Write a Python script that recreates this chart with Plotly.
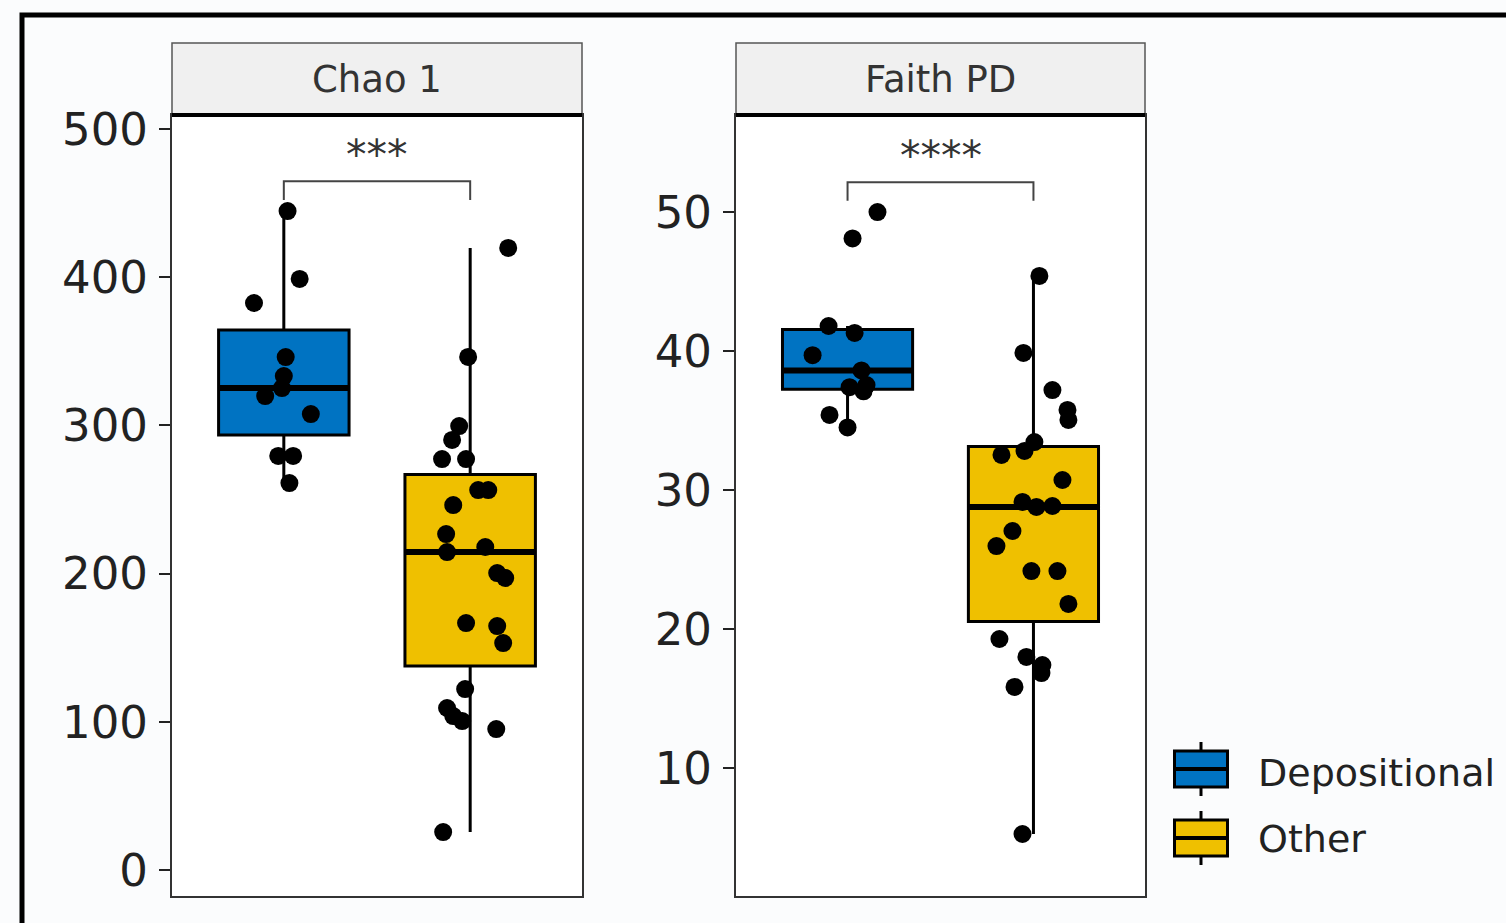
import numpy as np
import plotly.graph_objects as go

# ---------------- data ----------------
groups = ["Depositional", "Other"]
colors = {"Depositional": "#0073C2", "Other": "#EFC000"}
panels = ["Chao 1", "Faith PD"]
sig_labels = ["***", "****"]

chao_dep = [444.5, 398.7, 382.5, 346.0, 333.2, 325.1, 319.7, 307.6, 279.3, 279.3, 261.0]
chao_dep_jit = [0.02, 0.085, -0.16, 0.01, 0.0, -0.01, -0.10, 0.145, -0.03, 0.05, 0.03]

chao_oth = [419.6, 346.1, 299.5, 290.1, 277.2, 277.2, 256.3, 256.3, 246.2, 226.6, 214.5,
            217.9, 200.3, 197.0, 166.6, 164.6, 153.1, 122.1, 109.3, 103.9, 100.5, 95.1, 25.6]
chao_oth_jit = [0.204, -0.011, -0.059, -0.097, -0.151, -0.022, 0.043, 0.097, -0.091, -0.129, -0.124,
                0.081, 0.145, 0.188, -0.022, 0.145, 0.177, -0.027, -0.124, -0.091, -0.043, 0.140, -0.145]

faith_dep = [50.0, 48.1, 41.8, 41.3, 39.7, 38.6, 37.55, 37.4, 37.1, 35.4, 34.5]
faith_dep_jit = [0.161, 0.027, -0.102, 0.038, -0.188, 0.075, 0.102, 0.011, 0.086, -0.097, 0.0]

faith_oth = [45.4, 39.86, 37.19, 35.76, 35.04, 33.45, 32.81, 32.52, 30.72, 29.14, 28.78, 28.85,
             27.05, 25.97, 24.17, 24.17, 21.80, 19.28, 17.99, 17.41, 16.83, 15.83, 5.25]
faith_oth_jit = [0.032, -0.054, 0.102, 0.183, 0.188, 0.005, -0.048, -0.172, 0.156, -0.059, 0.016, 0.102,
                 -0.113, -0.199, -0.011, 0.129, 0.188, -0.183, -0.038, 0.048, 0.043, -0.102, -0.059]

data = {
    "Chao 1": {"Depositional": (chao_dep, chao_dep_jit), "Other": (chao_oth, chao_oth_jit)},
    "Faith PD": {"Depositional": (faith_dep, faith_dep_jit), "Other": (faith_oth, faith_oth_jit)},
}

y_ticks = {"Chao 1": [0, 100, 200, 300, 400, 500], "Faith PD": [10, 20, 30, 40, 50]}
y_ranges = {"Chao 1": [-17.5, 509.3], "Faith PD": [0.79, 56.98]}

# ---------------- layout geometry ----------------
W, H = 1506, 923
def px_x(p): return p / W
def px_y(p): return 1 - p / H

x_domains = [[px_x(172), px_x(582)], [px_x(736), px_x(1145)]]
y_domain = [px_y(896), px_y(115)]
strip_top, strip_bot = px_y(43), px_y(115)

BOX_W = 0.7
FONT = "DejaVu Sans"

fig = go.Figure()

def stats(v):
    v = np.asarray(v, float)
    q1, med, q3 = np.percentile(v, [25, 50, 75])
    iqr = q3 - q1
    up = v[v <= q3 + 1.5 * iqr].max()
    lo = v[v >= q1 - 1.5 * iqr].min()
    return q1, med, q3, lo, up

for pi, panel in enumerate(panels):
    xa = "x" if pi == 0 else "x2"
    ya = "y" if pi == 0 else "y2"
    all_vals = []
    for gi, g in enumerate(groups):
        vals, jit = data[panel][g]
        all_vals += vals
        pos = gi + 1
        q1, med, q3, lo, up = stats(vals)
        fig.add_trace(go.Box(
            x=[pos], q1=[q1], median=[med], q3=[q3], lowerfence=[lo], upperfence=[up],
            width=BOX_W, fillcolor=colors[g], line=dict(color="black", width=3),
            whiskerwidth=0, boxpoints=False, name=g, legendgroup=g,
            showlegend=False, xaxis=xa, yaxis=ya, hoverinfo="skip"))
    for gi, g in enumerate(groups):
        vals, jit = data[panel][g]
        pos = gi + 1
        q1, med, q3, lo, up = stats(vals)
        fig.add_trace(go.Scatter(
            x=[pos - BOX_W / 2, pos + BOX_W / 2], y=[med, med], mode="lines",
            line=dict(color="black", width=6), showlegend=False, xaxis=xa, yaxis=ya,
            hoverinfo="skip"))
    for gi, g in enumerate(groups):
        vals, jit = data[panel][g]
        pos = gi + 1
        fig.add_trace(go.Scatter(
            x=[pos + j for j in jit], y=vals, mode="markers",
            marker=dict(color="black", size=18, line=dict(width=0)),
            showlegend=False, xaxis=xa, yaxis=ya, hoverinfo="skip"))
    # significance bracket
    vmax, vmin = max(all_vals), min(all_vals)
    span = vmax - vmin
    by = vmax + 0.048 * span
    tip = 0.03 * span
    fig.add_trace(go.Scatter(
        x=[1, 1, 2, 2], y=[by - tip, by, by, by - tip], mode="lines",
        line=dict(color="#444444", width=2), showlegend=False, xaxis=xa, yaxis=ya,
        hoverinfo="skip"))
    fig.add_annotation(x=1.5, y=by, xref=xa, yref=ya, text=sig_labels[pi],
                       showarrow=False, yanchor="bottom", yshift=0,
                       font=dict(family=FONT, size=41, color="#333333"))
    # strip
    fig.add_shape(type="rect", xref=f"{xa} domain", yref="paper", x0=0, x1=1,
                  y0=strip_bot, y1=strip_top, fillcolor="#F0F0F0",
                  line=dict(color="#555555", width=1.5), layer="below")
    fig.add_shape(type="line", xref=f"{xa} domain", yref="paper", x0=0, x1=1,
                  y0=strip_bot, y1=strip_bot, line=dict(color="black", width=4))
    fig.add_annotation(x=0.5, y=(strip_top + strip_bot) / 2, xref=f"{xa} domain", yref="paper",
                       text=panel, showarrow=False, yanchor="middle",
                       font=dict(family=FONT, size=37, color="#333333"))

# legend entries (text by plotly legend, key glyph drawn as a boxplot key)
key_cx, key_w, key_h, key_wh = 1201, 53, 36, 9
key_centers = [769, 838]
for g, cy in zip(groups, key_centers):
    fig.add_trace(go.Scatter(x=[None], y=[None], mode="markers", name=g,
                             marker=dict(color="rgba(0,0,0,0)", size=1),
                             showlegend=True, legendgroup=g, hoverinfo="skip"))
    fig.add_shape(type="line", xref="paper", yref="paper",
                  x0=px_x(key_cx), x1=px_x(key_cx),
                  y0=px_y(cy + key_h / 2 + key_wh), y1=px_y(cy - key_h / 2 - key_wh),
                  line=dict(color="black", width=3))
    fig.add_shape(type="rect", xref="paper", yref="paper",
                  x0=px_x(key_cx - key_w / 2), x1=px_x(key_cx + key_w / 2),
                  y0=px_y(cy + key_h / 2), y1=px_y(cy - key_h / 2),
                  fillcolor=colors[g], line=dict(color="black", width=3))
    fig.add_shape(type="line", xref="paper", yref="paper",
                  x0=px_x(key_cx - key_w / 2), x1=px_x(key_cx + key_w / 2),
                  y0=px_y(cy), y1=px_y(cy), line=dict(color="black", width=4))

axis_common = dict(showgrid=False, zeroline=False, showline=True, mirror=True,
                   linecolor="#333333", linewidth=2, automargin=False)
tick_common = dict(ticks="outside", ticklen=11, tickwidth=2, tickcolor="#222222",
                   ticklabelstandoff=2,
                   tickfont=dict(family=FONT, size=45, color="#222222"))
fig.update_layout(
    xaxis=dict(domain=x_domains[0], range=[0.4, 2.6], showticklabels=False, ticks="", **axis_common),
    xaxis2=dict(domain=x_domains[1], range=[0.4, 2.6], showticklabels=False, ticks="", anchor="y2",
                **axis_common),
    yaxis=dict(domain=y_domain, range=y_ranges["Chao 1"], tickvals=y_ticks["Chao 1"],
               anchor="x", **tick_common, **axis_common),
    yaxis2=dict(domain=y_domain, range=y_ranges["Faith PD"], tickvals=y_ticks["Faith PD"],
                anchor="x2", **tick_common, **axis_common),
)

fig.add_shape(type="rect", xref="paper", yref="paper", x0=px_x(22), x1=1.2, y0=-0.2, y1=px_y(15),
              line=dict(color="black", width=5), layer="below")

fig.update_layout(
    width=W, height=H, margin=dict(l=0, r=0, t=0, b=0, pad=0, autoexpand=False),
    paper_bgcolor="#FBFCFD", plot_bgcolor="white",
    font=dict(family=FONT, color="#222222"),
    showlegend=True,
    legend=dict(x=px_x(1188), y=px_y(804), xanchor="left", yanchor="middle",
                font=dict(family=FONT, size=38, color="#222222"),
                bgcolor="rgba(0,0,0,0)", tracegroupgap=14, itemwidth=60),
)

fig.write_html("out.html", config={"displayModeBar": False},
               post_script="document.body.style.margin='0';document.body.style.overflow='hidden';")
